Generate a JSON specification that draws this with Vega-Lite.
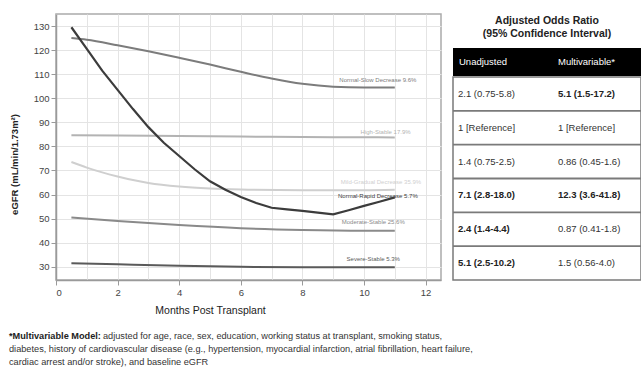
{
  "$schema": "https://vega.github.io/schema/vega-lite/v6.json",
  "background": "white",
  "padding": {"left": 8, "top": 13, "right": 0, "bottom": 0},
  "config": {"font": "Liberation Sans"},
  "datasets": {
    "curves": [
      {"trajectory": "Normal-Slow Decrease", "month": 0.5, "egfr": 125},
      {"trajectory": "Normal-Slow Decrease", "month": 1, "egfr": 124.3},
      {"trajectory": "Normal-Slow Decrease", "month": 2, "egfr": 122},
      {"trajectory": "Normal-Slow Decrease", "month": 3, "egfr": 119.5},
      {"trajectory": "Normal-Slow Decrease", "month": 4, "egfr": 116.8},
      {"trajectory": "Normal-Slow Decrease", "month": 5, "egfr": 114},
      {"trajectory": "Normal-Slow Decrease", "month": 6, "egfr": 111},
      {"trajectory": "Normal-Slow Decrease", "month": 7, "egfr": 108.2},
      {"trajectory": "Normal-Slow Decrease", "month": 8, "egfr": 106},
      {"trajectory": "Normal-Slow Decrease", "month": 9, "egfr": 104.8},
      {"trajectory": "Normal-Slow Decrease", "month": 10, "egfr": 104.5},
      {"trajectory": "Normal-Slow Decrease", "month": 11, "egfr": 104.5},
      {"trajectory": "High-Stable", "month": 0.5, "egfr": 84.6},
      {"trajectory": "High-Stable", "month": 2, "egfr": 84.5},
      {"trajectory": "High-Stable", "month": 4, "egfr": 84.3},
      {"trajectory": "High-Stable", "month": 6, "egfr": 84.1},
      {"trajectory": "High-Stable", "month": 8, "egfr": 83.9},
      {"trajectory": "High-Stable", "month": 10, "egfr": 83.8},
      {"trajectory": "High-Stable", "month": 11, "egfr": 83.7},
      {"trajectory": "Mild-Gradual Decrease", "month": 0.5, "egfr": 73.5},
      {"trajectory": "Mild-Gradual Decrease", "month": 1, "egfr": 71.2},
      {"trajectory": "Mild-Gradual Decrease", "month": 1.5, "egfr": 69.2},
      {"trajectory": "Mild-Gradual Decrease", "month": 2, "egfr": 67.5},
      {"trajectory": "Mild-Gradual Decrease", "month": 2.5, "egfr": 66},
      {"trajectory": "Mild-Gradual Decrease", "month": 3, "egfr": 64.8},
      {"trajectory": "Mild-Gradual Decrease", "month": 4, "egfr": 63.3},
      {"trajectory": "Mild-Gradual Decrease", "month": 5, "egfr": 62.5},
      {"trajectory": "Mild-Gradual Decrease", "month": 6, "egfr": 62.1},
      {"trajectory": "Mild-Gradual Decrease", "month": 8, "egfr": 61.8},
      {"trajectory": "Mild-Gradual Decrease", "month": 10, "egfr": 61.8},
      {"trajectory": "Mild-Gradual Decrease", "month": 11, "egfr": 62},
      {"trajectory": "Moderate-Stable", "month": 0.5, "egfr": 50.5},
      {"trajectory": "Moderate-Stable", "month": 2, "egfr": 49},
      {"trajectory": "Moderate-Stable", "month": 4, "egfr": 47.3},
      {"trajectory": "Moderate-Stable", "month": 6, "egfr": 46},
      {"trajectory": "Moderate-Stable", "month": 8, "egfr": 45.3},
      {"trajectory": "Moderate-Stable", "month": 10, "egfr": 45},
      {"trajectory": "Moderate-Stable", "month": 11, "egfr": 45},
      {"trajectory": "Severe-Stable", "month": 0.5, "egfr": 31.5},
      {"trajectory": "Severe-Stable", "month": 2, "egfr": 31},
      {"trajectory": "Severe-Stable", "month": 4, "egfr": 30.4},
      {"trajectory": "Severe-Stable", "month": 6, "egfr": 30},
      {"trajectory": "Severe-Stable", "month": 8, "egfr": 29.8},
      {"trajectory": "Severe-Stable", "month": 11, "egfr": 29.8},
      {"trajectory": "Normal-Rapid Decrease", "month": 0.5, "egfr": 129.5},
      {"trajectory": "Normal-Rapid Decrease", "month": 1, "egfr": 120.5},
      {"trajectory": "Normal-Rapid Decrease", "month": 1.5, "egfr": 111.5},
      {"trajectory": "Normal-Rapid Decrease", "month": 2, "egfr": 103.5},
      {"trajectory": "Normal-Rapid Decrease", "month": 2.5, "egfr": 95.5},
      {"trajectory": "Normal-Rapid Decrease", "month": 3, "egfr": 88},
      {"trajectory": "Normal-Rapid Decrease", "month": 3.5, "egfr": 81.5},
      {"trajectory": "Normal-Rapid Decrease", "month": 4, "egfr": 76},
      {"trajectory": "Normal-Rapid Decrease", "month": 4.5, "egfr": 70.5},
      {"trajectory": "Normal-Rapid Decrease", "month": 5, "egfr": 65.5},
      {"trajectory": "Normal-Rapid Decrease", "month": 5.5, "egfr": 62},
      {"trajectory": "Normal-Rapid Decrease", "month": 6, "egfr": 59},
      {"trajectory": "Normal-Rapid Decrease", "month": 6.5, "egfr": 56.5},
      {"trajectory": "Normal-Rapid Decrease", "month": 7, "egfr": 54.5},
      {"trajectory": "Normal-Rapid Decrease", "month": 7.5, "egfr": 53.8},
      {"trajectory": "Normal-Rapid Decrease", "month": 8, "egfr": 53.2},
      {"trajectory": "Normal-Rapid Decrease", "month": 8.5, "egfr": 52.5},
      {"trajectory": "Normal-Rapid Decrease", "month": 9, "egfr": 51.8},
      {"trajectory": "Normal-Rapid Decrease", "month": 9.5, "egfr": 53.5},
      {"trajectory": "Normal-Rapid Decrease", "month": 10, "egfr": 55.3},
      {"trajectory": "Normal-Rapid Decrease", "month": 10.5, "egfr": 57},
      {"trajectory": "Normal-Rapid Decrease", "month": 11, "egfr": 58.8}
    ],
    "labels": [
      {"trajectory": "Normal-Slow Decrease", "label": "Normal-Slow Decrease 9.6%", "month": 10.45, "egfr": 107.7},
      {"trajectory": "High-Stable", "label": "High-Stable 17.9%", "month": 10.7, "egfr": 85.8},
      {"trajectory": "Mild-Gradual Decrease", "label": "Mild-Gradual Decrease 35.9%", "month": 10.55, "egfr": 65.2},
      {"trajectory": "Normal-Rapid Decrease", "label": "Normal-Rapid Decrease 5.7%", "month": 10.45, "egfr": 59.6},
      {"trajectory": "Moderate-Stable", "label": "Moderate-Stable 25.6%", "month": 10.3, "egfr": 48.6},
      {"trajectory": "Severe-Stable", "label": "Severe-Stable 5.3%", "month": 10.3, "egfr": 33.3}
    ],
    "odds": [
      {"trajectory": "Normal-Slow Decrease", "model": "Unadjusted", "estimate": "2.1 (0.75-5.8)", "significant": false},
      {"trajectory": "Normal-Slow Decrease", "model": "Multivariable*", "estimate": "5.1 (1.5-17.2)", "significant": true},
      {"trajectory": "High-Stable", "model": "Unadjusted", "estimate": "1 [Reference]", "significant": false},
      {"trajectory": "High-Stable", "model": "Multivariable*", "estimate": "1 [Reference]", "significant": false},
      {"trajectory": "Mild-Gradual Decrease", "model": "Unadjusted", "estimate": "1.4 (0.75-2.5)", "significant": false},
      {"trajectory": "Mild-Gradual Decrease", "model": "Multivariable*", "estimate": "0.86 (0.45-1.6)", "significant": false},
      {"trajectory": "Normal-Rapid Decrease", "model": "Unadjusted", "estimate": "7.1 (2.8-18.0)", "significant": true},
      {"trajectory": "Normal-Rapid Decrease", "model": "Multivariable*", "estimate": "12.3 (3.6-41.8)", "significant": true},
      {"trajectory": "Moderate-Stable", "model": "Unadjusted", "estimate": "2.4 (1.4-4.4)", "significant": true},
      {"trajectory": "Moderate-Stable", "model": "Multivariable*", "estimate": "0.87 (0.41-1.8)", "significant": false},
      {"trajectory": "Severe-Stable", "model": "Unadjusted", "estimate": "5.1 (2.5-10.2)", "significant": true},
      {"trajectory": "Severe-Stable", "model": "Multivariable*", "estimate": "1.5 (0.56-4.0)", "significant": false}
    ],
    "heading": [
      {"line": 1, "text": "Adjusted Odds Ratio"},
      {"line": 2, "text": "(95% Confidence Interval)"}
    ],
    "notes": [
      {"line": 1, "part": "lead", "text": "*Multivariable Model:"},
      {"line": 1, "part": "body", "text": "adjusted for age, race, sex, education, working status at transplant, smoking status,"},
      {"line": 2, "part": "body", "text": "diabetes, history of cardiovascular disease (e.g., hypertension, myocardial infarction, atrial fibrillation, heart failure,"},
      {"line": 3, "part": "body", "text": "cardiac arrest and/or stroke), and baseline eGFR"}
    ]
  },
  "columns": 1,
  "align": "none",
  "spacing": 12,
  "concat": [
    {
      "spacing": 9,
      "hconcat": [
        {
          "width": 385,
          "height": 266,
          "view": {"stroke": "#ababab", "strokeWidth": 1.5},
          "encoding": {
            "x": {
              "field": "month",
              "type": "quantitative",
              "scale": {"domain": [0, 12.5], "nice": false},
              "axis": {
                "title": "Months Post Transplant",
                "titleX": 154,
                "values": [0, 1, 2, 3, 4, 5, 6, 7, 8, 9, 10, 11, 12],
                "labelExpr": "datum.value % 2 === 0 ? datum.label : ''",
                "tickOpacity": {"condition": {"test": "datum.value % 2 !== 0", "value": 0}, "value": 1},
                "grid": true,
                "gridColor": "#e4e4e4",
                "domainColor": "#9a9a9a",
                "domainWidth": 1.5,
                "tickColor": "#9a9a9a",
                "tickSize": 5,
                "labelFontSize": 9.5,
                "labelColor": "#444",
                "labelPadding": 2,
                "titleFontSize": 10.5,
                "titleFontWeight": "normal",
                "titleColor": "#222",
                "titlePadding": 9
              }
            },
            "y": {
              "field": "egfr",
              "type": "quantitative",
              "scale": {"domain": [24.5, 135], "nice": false, "zero": false},
              "axis": {
                "title": "eGFR (mL/min/1.73m²)",
                "titleY": 150,
                "values": [30, 40, 50, 60, 70, 80, 90, 100, 110, 120, 130],
                "grid": true,
                "gridColor": "#e4e4e4",
                "domainColor": "#9a9a9a",
                "domainWidth": 1.5,
                "tickColor": "#9a9a9a",
                "tickSize": 5,
                "labelFontSize": 9.5,
                "labelColor": "#444",
                "labelPadding": 2,
                "titleFontSize": 9.5,
                "titleFontWeight": "bold",
                "titleColor": "#222",
                "titlePadding": 14
              }
            },
            "color": {
              "field": "trajectory",
              "type": "nominal",
              "legend": null,
              "scale": {
                "domain": ["Normal-Slow Decrease", "High-Stable", "Mild-Gradual Decrease", "Normal-Rapid Decrease", "Moderate-Stable", "Severe-Stable"],
                "range": ["#7c7c7c", "#b3b3b3", "#cfcfcf", "#3c3c3c", "#8a8a8a", "#5a5a5a"]
              }
            }
          },
          "layer": [
            {
              "data": {"name": "curves"},
              "transform": [{"filter": "datum.trajectory !== 'Normal-Rapid Decrease'"}],
              "mark": {"type": "line", "interpolate": "monotone", "strokeWidth": 2}
            },
            {
              "data": {"name": "curves"},
              "transform": [{"filter": "datum.trajectory === 'Normal-Rapid Decrease'"}],
              "mark": {"type": "line", "interpolate": "linear", "strokeWidth": 2.2}
            },
            {
              "data": {"name": "labels"},
              "mark": {"type": "text", "fontSize": 6, "align": "center", "baseline": "middle"},
              "encoding": {"text": {"field": "label"}}
            }
          ]
        },
        {
          "spacing": 8,
          "vconcat": [
            {
              "width": 188,
              "height": 26,
              "view": {"stroke": null},
              "data": {"name": "heading"},
              "mark": {"type": "text", "align": "center", "baseline": "middle", "fontSize": 10.5, "fontWeight": "bold", "color": "#222"},
              "encoding": {
                "y": {"field": "line", "type": "ordinal", "scale": {"paddingInner": 0, "paddingOuter": 0}, "axis": null},
                "text": {"field": "text"}
              }
            },
            {
              "spacing": 0,
              "vconcat": [
                {
                  "width": 188,
                  "height": 28,
                  "view": {"fill": "#000000", "stroke": null},
                  "data": {"name": "odds"},
                  "transform": [{"filter": "datum.trajectory === 'High-Stable'"}],
                  "mark": {"type": "text", "align": "left", "baseline": "middle", "color": "white", "fontSize": 9.5},
                  "encoding": {
                    "x": {"field": "model", "type": "nominal", "sort": null, "scale": {"type": "point", "range": [6, 105], "padding": 0}, "axis": null},
                    "text": {"field": "model"}
                  }
                },
                {
                  "width": 188,
                  "height": 203,
                  "view": {"stroke": "#7a7a7a", "strokeWidth": 1.5},
                  "data": {"name": "odds"},
                  "encoding": {
                    "y": {
                      "field": "trajectory",
                      "type": "nominal",
                      "sort": ["Normal-Slow Decrease", "High-Stable", "Mild-Gradual Decrease", "Normal-Rapid Decrease", "Moderate-Stable", "Severe-Stable"],
                      "scale": {"paddingInner": 0, "paddingOuter": 0},
                      "axis": null
                    }
                  },
                  "layer": [
                    {
                      "transform": [{"filter": "datum.model === 'Unadjusted' && datum.trajectory !== 'Normal-Slow Decrease'"}],
                      "mark": {"type": "rule", "color": "#7a7a7a", "strokeWidth": 1.8},
                      "encoding": {"y": {"field": "trajectory", "type": "nominal", "bandPosition": 0, "sort": ["Normal-Slow Decrease", "High-Stable", "Mild-Gradual Decrease", "Normal-Rapid Decrease", "Moderate-Stable", "Severe-Stable"]}}
                    },
                    {
                      "transform": [{"filter": "!datum.significant"}],
                      "mark": {"type": "text", "align": "left", "baseline": "middle", "fontSize": 9.5, "color": "#333"},
                      "encoding": {
                        "x": {"field": "model", "type": "nominal", "sort": ["Unadjusted", "Multivariable*"], "scale": {"type": "point", "range": [5, 105], "padding": 0}, "axis": null},
                        "text": {"field": "estimate"}
                      }
                    },
                    {
                      "transform": [{"filter": "datum.significant"}],
                      "mark": {"type": "text", "align": "left", "baseline": "middle", "fontSize": 9.5, "fontWeight": "bold", "color": "#222"},
                      "encoding": {
                        "x": {"field": "model", "type": "nominal", "sort": ["Unadjusted", "Multivariable*"], "scale": {"type": "point", "range": [5, 105], "padding": 0}, "axis": null},
                        "text": {"field": "estimate"}
                      }
                    }
                  ]
                }
              ]
            }
          ]
        }
      ]
    },
    {
      "width": 620,
      "height": 39,
      "view": {"stroke": null},
      "data": {"name": "notes"},
      "encoding": {
        "y": {"field": "line", "type": "ordinal", "scale": {"paddingInner": 0, "paddingOuter": 0}, "axis": null},
        "x": {"value": 0}
      },
      "layer": [
        {
          "transform": [{"filter": "datum.part === 'lead'"}],
          "mark": {"type": "text", "align": "left", "baseline": "middle", "fontSize": 9.2, "fontWeight": "bold", "color": "#222", "dx": -47},
          "encoding": {"text": {"field": "text"}}
        },
        {
          "transform": [{"filter": "datum.part === 'body' && datum.line === 1"}],
          "mark": {"type": "text", "align": "left", "baseline": "middle", "fontSize": 9.2, "color": "#333", "dx": 47},
          "encoding": {"text": {"field": "text"}}
        },
        {
          "transform": [{"filter": "datum.part === 'body' && datum.line !== 1"}],
          "mark": {"type": "text", "align": "left", "baseline": "middle", "fontSize": 9.2, "color": "#333", "dx": -47},
          "encoding": {"text": {"field": "text"}}
        }
      ]
    }
  ]
}
